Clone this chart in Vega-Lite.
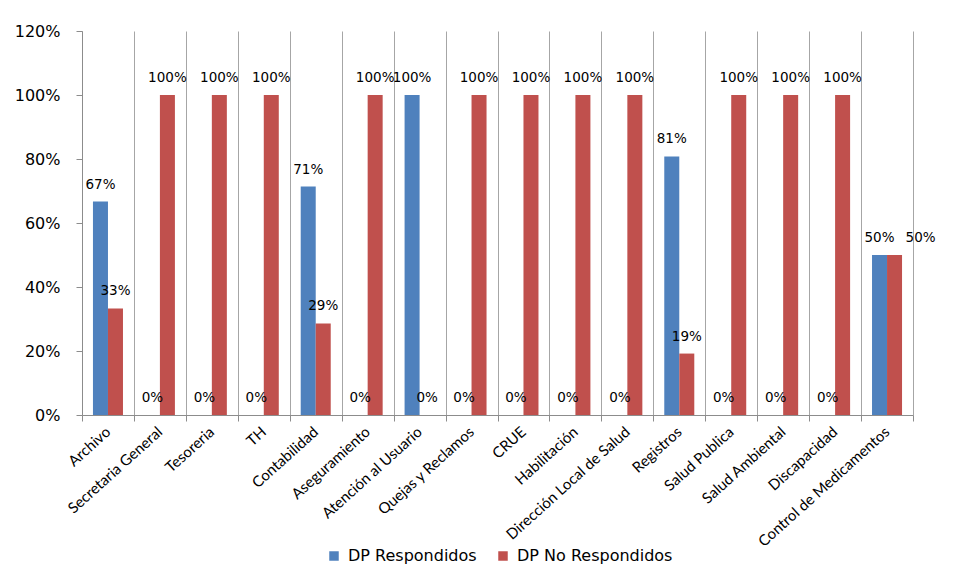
{
  "$schema": "https://vega.github.io/schema/vega-lite/v6.json",
  "width": 831,
  "height": 384,
  "autosize": "none",
  "padding": {"left": 82, "top": 31, "right": 53, "bottom": 153},
  "background": "white",
  "config": {"view": {"stroke": null}},
  "data": {
    "values": [
      {"area": "Archivo", "serie": "DP Respondidos", "valor": 0.667},
      {"area": "Archivo", "serie": "DP No Respondidos", "valor": 0.333},
      {"area": "Secretaria General", "serie": "DP Respondidos", "valor": 0},
      {"area": "Secretaria General", "serie": "DP No Respondidos", "valor": 1},
      {"area": "Tesoreria", "serie": "DP Respondidos", "valor": 0},
      {"area": "Tesoreria", "serie": "DP No Respondidos", "valor": 1},
      {"area": "TH", "serie": "DP Respondidos", "valor": 0},
      {"area": "TH", "serie": "DP No Respondidos", "valor": 1},
      {"area": "Contabilidad", "serie": "DP Respondidos", "valor": 0.714},
      {"area": "Contabilidad", "serie": "DP No Respondidos", "valor": 0.286},
      {"area": "Aseguramiento", "serie": "DP Respondidos", "valor": 0},
      {"area": "Aseguramiento", "serie": "DP No Respondidos", "valor": 1},
      {"area": "Atención al Usuario", "serie": "DP Respondidos", "valor": 1},
      {"area": "Atención al Usuario", "serie": "DP No Respondidos", "valor": 0},
      {"area": "Quejas y Reclamos", "serie": "DP Respondidos", "valor": 0},
      {"area": "Quejas y Reclamos", "serie": "DP No Respondidos", "valor": 1},
      {"area": "CRUE", "serie": "DP Respondidos", "valor": 0},
      {"area": "CRUE", "serie": "DP No Respondidos", "valor": 1},
      {"area": "Habilitación", "serie": "DP Respondidos", "valor": 0},
      {"area": "Habilitación", "serie": "DP No Respondidos", "valor": 1},
      {"area": "Dirección Local de Salud", "serie": "DP Respondidos", "valor": 0},
      {"area": "Dirección Local de Salud", "serie": "DP No Respondidos", "valor": 1},
      {"area": "Registros", "serie": "DP Respondidos", "valor": 0.808},
      {"area": "Registros", "serie": "DP No Respondidos", "valor": 0.192},
      {"area": "Salud Publica", "serie": "DP Respondidos", "valor": 0},
      {"area": "Salud Publica", "serie": "DP No Respondidos", "valor": 1},
      {"area": "Salud Ambiental", "serie": "DP Respondidos", "valor": 0},
      {"area": "Salud Ambiental", "serie": "DP No Respondidos", "valor": 1},
      {"area": "Discapacidad", "serie": "DP Respondidos", "valor": 0},
      {"area": "Discapacidad", "serie": "DP No Respondidos", "valor": 1},
      {"area": "Control de Medicamentos", "serie": "DP Respondidos", "valor": 0.5},
      {"area": "Control de Medicamentos", "serie": "DP No Respondidos", "valor": 0.5}
    ]
  },
  "encoding": {
    "x": {
      "field": "area",
      "type": "nominal",
      "sort": null,
      "scale": {"paddingInner": 0, "paddingOuter": 0},
      "axis": {
        "title": null,
        "labelAngle": -42,
        "labelFont": "Lato",
        "labelFontSize": 15,
        "labelColor": "#000000",
        "labelPadding": 3,
        "labelOffset": -5,
        "labelOverlap": false,
        "domainColor": "#8c8c8c",
        "tickColor": "#8c8c8c",
        "tickSize": 6,
        "tickBand": "extent",
        "grid": true,
        "gridColor": "#a6a6a6",
        "gridOpacity": 1
      }
    },
    "xOffset": {
      "field": "serie",
      "type": "nominal",
      "sort": ["DP Respondidos", "DP No Respondidos"],
      "scale": {"paddingInner": 0, "paddingOuter": 0.73}
    },
    "y": {
      "field": "valor",
      "type": "quantitative",
      "scale": {"domain": [0, 1.2], "nice": false},
      "axis": {
        "title": null,
        "values": [0, 0.2, 0.4, 0.6, 0.8, 1, 1.2],
        "format": ".0%",
        "grid": false,
        "labelFont": "DejaVu Sans",
        "labelFontSize": 16,
        "labelColor": "#000000",
        "labelPadding": 16,
        "domainColor": "#8c8c8c",
        "tickColor": "#8c8c8c",
        "tickSize": 6
      }
    }
  },
  "layer": [
    {
      "mark": {"type": "bar"},
      "encoding": {
        "color": {
          "field": "serie",
          "type": "nominal",
          "sort": ["DP Respondidos", "DP No Respondidos"],
          "scale": {"domain": ["DP Respondidos", "DP No Respondidos"], "range": ["#4F81BD", "#C0504D"]},
          "legend": {
            "title": null,
            "orient": "none",
            "legendX": 244,
            "legendY": 517,
            "direction": "horizontal",
            "symbolType": "square",
            "symbolSize": 90,
            "symbolStrokeWidth": 0,
            "labelFont": "DejaVu Sans",
            "labelFontSize": 16,
            "labelColor": "#000000",
            "labelOffset": 6,
            "columnPadding": 18
          }
        }
      }
    },
    {
      "transform": [{"filter": "!(datum.area === 'Control de Medicamentos' && datum.serie === 'DP No Respondidos')"}],
      "mark": {"type": "text", "baseline": "middle", "dy": -17, "font": "DejaVu Sans", "fontSize": 13.5, "color": "#000000"},
      "encoding": {
        "text": {"field": "valor", "type": "quantitative", "format": ".0%"}
      }
    },
    {
      "transform": [{"filter": "datum.area === 'Control de Medicamentos' && datum.serie === 'DP No Respondidos'"}],
      "mark": {"type": "text", "baseline": "middle", "dy": -17, "dx": 26, "font": "DejaVu Sans", "fontSize": 13.5, "color": "#000000"},
      "encoding": {
        "text": {"field": "valor", "type": "quantitative", "format": ".0%"}
      }
    }
  ]
}
